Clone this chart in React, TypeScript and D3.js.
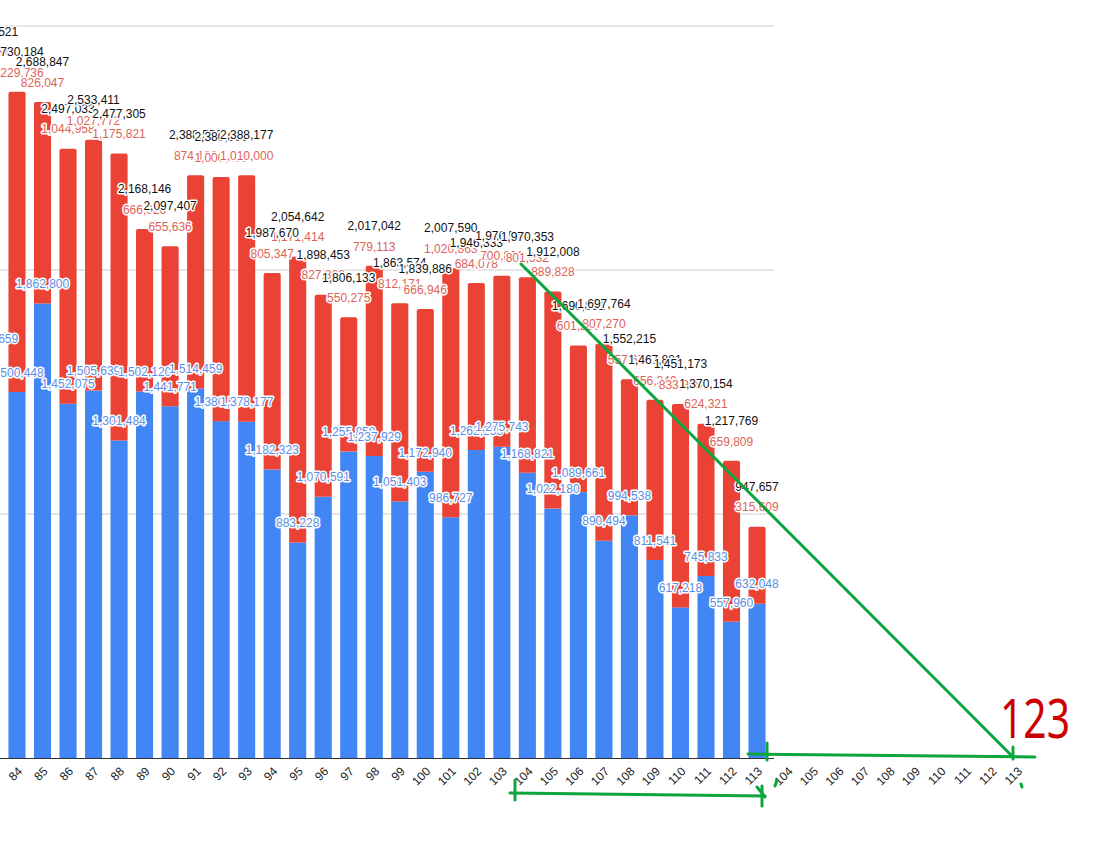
import React from 'react';
import * as d3 from 'd3';

// 年度 (83 is cut off at the left edge)
const categories = [
  '83', '84', '85', '86', '87', '88', '89', '90', '91', '92', '93', '94', '95', '96', '97',
  '98', '99', '100', '101', '102', '103', '104', '105', '106', '107', '108', '109', '110',
  '111', '112', '113',
];

const blueValues = [
  1639659, 1500448, 1862800, 1452075, 1505639, 1301484, 1502120, 1441771, 1514459, 1380500,
  1378177, 1182323, 883228, 1070591, 1255858, 1237929, 1051403, 1172940, 986727, 1262255,
  1275743, 1168821, 1022180, 1089661, 890494, 994538, 811541, 617218, 745833, 557960, 632048,
];

const redValues = [
  1172862, 1229736, 826047, 1044958, 1027772, 1175821, 666026, 655636, 874100, 1000400,
  1010000, 805347, 1171414, 827862, 550275, 779113, 812171, 666946, 1020863, 684078,
  700801, 801532, 889828, 601230, 807270, 557677, 656340, 833955, 624321, 659809, 315609,
];

// second row of pasted axis labels on the right
const pastedTicks = ['104', '105', '106', '107', '108', '109', '110', '111', '112', '113'];

const yTicks = [1000000, 2000000, 3000000];

const W = 1118;
const H = 847;

const App: React.FC = () => {
  const svgRef = React.useRef<SVGSVGElement>(null);

  React.useEffect(() => {
    if (!svgRef.current) return;
    const svg = d3.select(svgRef.current);
    svg.selectAll('*').remove();

    const data = categories.map((c, i) => ({
      cat: c,
      blue: blueValues[i],
      red: redValues[i],
      total: blueValues[i] + redValues[i],
    }));

    const x = d3.scaleBand()
      .domain(categories)
      .range([-25.5, 774])
      .paddingInner(0.33)
      .paddingOuter(0.33);

    const y = d3.scaleLinear()
      .domain([0, 3000000])
      .range([758, 26]);

    const cx = (c: string) => (x(c) || 0) + x.bandwidth() / 2;
    const fmt = d3.format(',');
    const font = 'Arial, "Liberation Sans", sans-serif';

    svg.append('rect').attr('width', W).attr('height', H).attr('fill', '#fff');

    // 격자선
    svg.append('g')
      .selectAll('line')
      .data(yTicks)
      .enter().append('line')
      .attr('x1', -25)
      .attr('x2', 774)
      .attr('y1', d => y(d))
      .attr('y2', d => y(d))
      .attr('stroke', '#cccccc')
      .attr('stroke-width', 1);

    // 막대
    const bars = svg.append('g');
    bars.selectAll('.blue')
      .data(data)
      .enter().append('rect')
      .attr('x', d => x(d.cat) || 0)
      .attr('y', d => y(d.blue))
      .attr('width', x.bandwidth())
      .attr('height', d => y(0) - y(d.blue))
      .attr('fill', '#4285f4');

    bars.selectAll('.red')
      .data(data)
      .enter().append('path')
      .attr('d', d => {
        const x0 = x(d.cat) || 0;
        const x1 = x0 + x.bandwidth();
        const t = y(d.total);
        const b = y(d.blue);
        const r = 2;
        return `M${x0},${b}V${t + r}Q${x0},${t} ${x0 + r},${t}H${x1 - r}Q${x1},${t} ${x1},${t + r}V${b}Z`;
      })
      .attr('fill', '#ea4335');

    const addLabels = (
      cls: string,
      yPos: (d: typeof data[number]) => number,
      text: (d: typeof data[number]) => string,
      color: string
    ) => {
      svg.append('g')
        .selectAll('text')
        .data(data)
        .enter().append('text')
        .attr('class', cls)
        .attr('x', d => cx(d.cat))
        .attr('y', yPos)
        .attr('dy', '0.35em')
        .attr('text-anchor', 'middle')
        .attr('font-family', font)
        .attr('font-size', 12)
        .attr('fill', color)
        .attr('stroke', '#fff')
        .attr('stroke-width', 3)
        .attr('stroke-linejoin', 'round')
        .attr('paint-order', 'stroke')
        .text(text);
    };

    addLabels('blue-label', d => y(d.blue) - 19.5, d => fmt(d.blue), '#5b8ee6');
    addLabels('red-label', d => y(d.total) - 19.5, d => fmt(d.red), '#dc6358');
    addLabels('total-label', d => y(d.total) - 40, d => fmt(d.total), '#111');

    // X축
    svg.append('line')
      .attr('x1', -25)
      .attr('x2', 774)
      .attr('y1', y(0) + 0.5)
      .attr('y2', y(0) + 0.5)
      .attr('stroke', '#333')
      .attr('stroke-width', 1);

    svg.append('g')
      .selectAll('text')
      .data(categories)
      .enter().append('text')
      .attr('transform', d => `translate(${cx(d) + 6},772) rotate(-45)`)
      .attr('text-anchor', 'end')
      .attr('font-family', font)
      .attr('font-size', 12)
      .attr('fill', '#222')
      .text(d => d);

    // pasted copy of the last ten tick labels
    const shift = 260;
    svg.append('g')
      .selectAll('text')
      .data(pastedTicks)
      .enter().append('text')
      .attr('transform', d => `translate(${cx(d) + 6 + shift},772) rotate(-45)`)
      .attr('text-anchor', 'end')
      .attr('font-family', font)
      .attr('font-size', 12)
      .attr('fill', '#222')
      .text(d => d);

    // 손으로 그린 주석
    const green = '#0da53d';
    const ann = svg.append('g')
      .attr('stroke', green)
      .attr('stroke-width', 3)
      .attr('stroke-linecap', 'round')
      .attr('fill', 'none');
    const segs: [number, number, number, number][] = [
      [521, 264, 1013, 757],
      [748, 754, 1035, 757],
      [767, 743, 767, 760],
      [1013, 747, 1013, 759],
      [510, 793, 765, 796],
      [515, 780, 515, 800],
      [762, 786, 762, 806],
      [757, 787, 765, 797],
      [777, 780, 775, 786],
      [1021, 784, 1022, 787],
    ];
    segs.forEach(([a, b, c, d]) => {
      ann.append('line').attr('x1', a).attr('y1', b).attr('x2', c).attr('y2', d);
    });

    svg.append('text')
      .attr('x', 1000)
      .attr('y', 738)
      .attr('font-family', '"Noto Sans", sans-serif')
      .attr('font-size', 55)
      .attr('textLength', 70)
      .attr('lengthAdjust', 'spacingAndGlyphs')
      .attr('fill', '#cc0000')
      .text('123');
  }, []);

  return (
    <svg
      ref={svgRef}
      width={W}
      height={H}
      style={{ position: 'absolute', left: 0, top: 0 }}
    />
  );
};

export default App;
